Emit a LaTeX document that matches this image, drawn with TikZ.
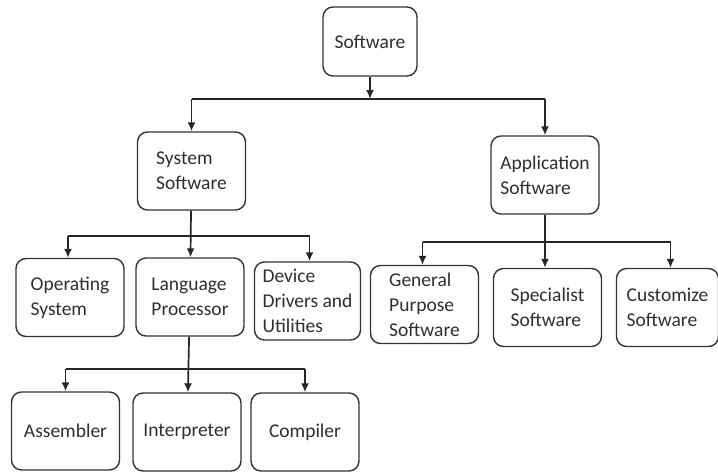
\documentclass[tikz,border=0pt]{standalone}
\usepackage{fontspec}
\setmainfont{Carlito}
\usetikzlibrary{arrows.meta}
\tikzset{
  box/.style={draw=black!80, line width=1.4pt, rounded corners=10pt, align=left,
    minimum width=108pt, minimum height=78pt, inner sep=2pt,
    text=black!82, font=\fontsize{19.5}{25}\selectfont},
  link/.style={line width=1.7pt, draw=black!85}
}
\begin{document}
\begin{tikzpicture}[x=1pt,y=-1pt,>={Latex[length=9pt,width=8pt]}]
        \useasboundingbox (0,0) rectangle (718,472);
        \node at (370,41.5) [box, minimum width=94pt, minimum height=69pt] (soft) {Software};
        \node at (191.5,171) [box] (sys) {System\\Software};
        \node at (545,175) [box] (app) {Application\\Software};
        \node at (70,297.5) [box] (os) {Operating\\System};
        \node at (190,297) [box] (lang) {Language\\Processor};
        \node at (307.5,301) [box, minimum width=106pt] (dev) {Device\\Drivers and\\Utilities};
        \node at (424.5,304.5) [box] (gen) {General\\Purpose\\Software};
        \node at (547.5,307.5) [box] (spec) {Specialist\\Software};
        \node at (667.5,307.5) [box, minimum width=102pt] (cust) {Customize\\Software};
        \node at (65.5,431) [box] (asm) {Assembler};
        \node at (187,432) [box] (int) {Interpreter};
        \node at (305,432) [box] (comp) {Compiler};
        \coordinate (top) at (0,99);
        \coordinate (left) at (0,236);
        \coordinate (right) at (0,242);
        \coordinate (low) at (0,369);
        % software
        \draw[link,->] (soft) -- (soft |- top);
        \draw[link] (sys |- top) -- (app |- top);
        \draw[link,->] (sys |- top) -- (sys);
        \draw[link,->] (app |- top) -- (app);
        % system software
        \draw[link,->] (sys) -- (lang);
        \draw[link] ([xshift=-2pt]os.north |- left) -- ([xshift=2pt]dev.north |- left);
        \draw[link,->] ([xshift=-2pt]os.north |- left) -- ([xshift=-2pt]os.north);
        \draw[link,->] ([xshift=2pt]dev.north |- left) -- ([xshift=2pt]dev.north);
        % application software
        \draw[link] ([xshift=-2pt]gen.north |- right) -- ([xshift=3pt]cust.north |- right);
        \draw[link,->] ([xshift=-2pt]gen.north |- right) -- ([xshift=-2pt]gen.north);
        \draw[link,->] (app) -- (app |- spec.north);
        \draw[link,->] ([xshift=3pt]cust.north |- right) -- ([xshift=3pt]cust.north);
        % language processor
        \draw[link,->] (lang) -- (int);
        \draw[link] (asm.north |- low) -- (comp.north |- low);
        \draw[link,->] (asm.north |- low) -- (asm);
        \draw[link,->] (comp.north |- low) -- (comp);
      \end{tikzpicture}
\end{document}
